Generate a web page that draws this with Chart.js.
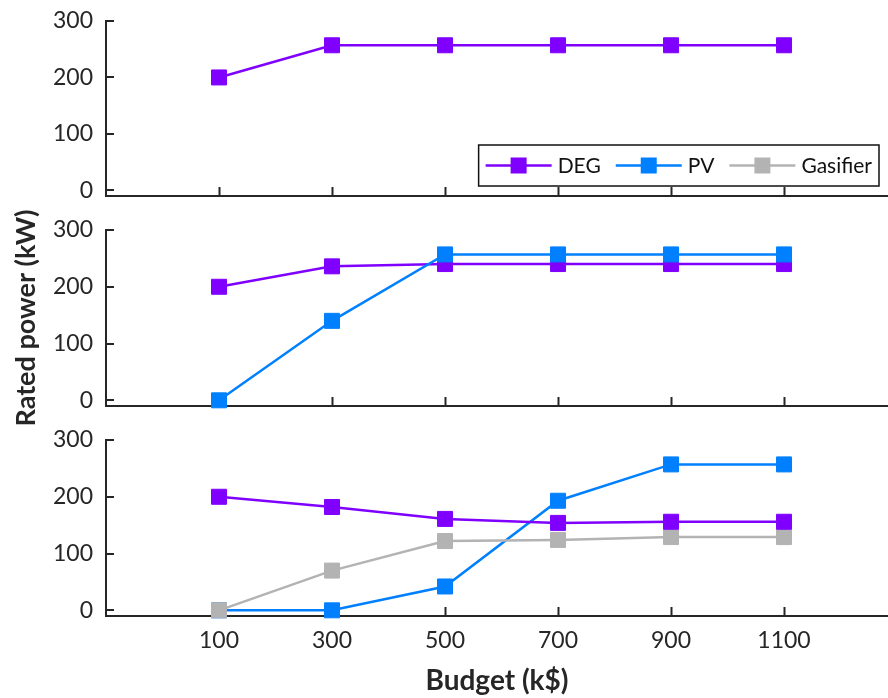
<!DOCTYPE html>
<html>
<head>
<meta charset="utf-8">
<title>Rated power vs budget</title>
<script src="https://cdn.jsdelivr.net/npm/chart.js@4.4.1/dist/chart.umd.min.js"></script>
<style>
  html, body { margin: 0; padding: 0; background: #ffffff; }
  #wrap { position: relative; width: 888px; height: 698px; }
  #wrap canvas { position: absolute; left: 0; top: 0; }
</style>
</head>
<body>
<div id="wrap">
  <canvas id="cTop" width="888" height="698"></canvas>
  <canvas id="cMid" width="888" height="698"></canvas>
  <canvas id="cBot" width="888" height="698"></canvas>
</div>
<script>
// Budget levels (k$) and axis ticks
const budget = [100, 300, 500, 700, 900, 1100];
const yTicks = [0, 100, 200, 300];

// Configuration 1: diesel generator only
const degA = [200, 257, 257, 257, 257, 257];
// Configuration 2: diesel generator + PV
const degB = [200, 236, 240, 240, 240, 240];
const pvB  = [0, 140, 257, 257, 257, 257];
// Configuration 3: diesel generator + PV + gasifier
const degC = [200, 182, 161, 154, 156, 156];
const pvC  = [0, 0, 42, 193, 257, 257];
const gasC = [0, 70, 122, 124, 129, 129];

const seriesNames  = ['DEG', 'PV', 'Gasifier'];
const seriesColors = ['#7f00ff', '#0080ff', '#b3b3b3'];

const FONT = 'Lato';
const AXIS_COLOR = '#262626';
Chart.defaults.font.family = FONT;
Chart.defaults.color = AXIS_COLOR;

function series(name, values) {
  const c = seriesColors[seriesNames.indexOf(name)];
  return {
    label: name,
    data: values.map((v, i) => ({ x: budget[i], y: v })),
    borderColor: c,
    backgroundColor: c,
    borderWidth: 2.5,
    pointStyle: 'rect',
    pointRadius: 10.6,
    pointHoverRadius: 10.6,
    pointBorderWidth: 1,
    pointBorderColor: c,
    pointBackgroundColor: c,
    tension: 0,
    clip: false
  };
}

// Tick marks pointing into the plot area
const innerTicks = {
  id: 'innerTicks',
  beforeDatasetsDraw(chart) {
    const { ctx, chartArea, scales: { x, y } } = chart;
    ctx.save();
    ctx.strokeStyle = AXIS_COLOR;
    ctx.lineWidth = 2;
    ctx.beginPath();
    yTicks.forEach(v => {
      const py = Math.round(y.getPixelForValue(v));
      ctx.moveTo(chartArea.left, py);
      ctx.lineTo(chartArea.left + 8, py);
    });
    budget.forEach(v => {
      const px = Math.round(x.getPixelForValue(v)) + 0.5;
      ctx.moveTo(px, chartArea.bottom);
      ctx.lineTo(px, chartArea.bottom - 9);
    });
    ctx.stroke();
    ctx.restore();
  }
};

// Boxed horizontal legend in the lower right of the plot area
const boxLegend = {
  id: 'boxLegend',
  afterDraw(chart) {
    const { ctx, chartArea } = chart;
    const font = '21px ' + FONT;
    const pad = 7, lineLen = 66, gapText = 6, gapItem = 15, mark = 16;
    ctx.save();
    ctx.font = font;
    const widths = seriesNames.map(n => ctx.measureText(n).width);
    let total = pad * 2;
    widths.forEach((w, i) => { total += lineLen + gapText + w + (i < widths.length - 1 ? gapItem : 0); });
    const right = chartArea.right - 9;
    const bottom = chartArea.bottom - 10;
    const h = 41;
    const left = right - total;
    const top = bottom - h;
    ctx.fillStyle = '#ffffff';
    ctx.fillRect(left, top, total, h);
    ctx.strokeStyle = '#111111';
    ctx.lineWidth = 1.5;
    ctx.strokeRect(left, top, total, h);
    const cy = top + h / 2;
    let cx = left + pad;
    seriesNames.forEach((n, i) => {
      const c = seriesColors[i];
      ctx.strokeStyle = c;
      ctx.lineWidth = 2.5;
      ctx.beginPath();
      ctx.moveTo(cx, cy);
      ctx.lineTo(cx + lineLen, cy);
      ctx.stroke();
      ctx.fillStyle = c;
      ctx.fillRect(cx + lineLen / 2 - mark / 2, cy - mark / 2, mark, mark);
      ctx.fillStyle = '#111111';
      ctx.textBaseline = 'middle';
      ctx.textAlign = 'left';
      ctx.fillText(n, cx + lineLen + gapText, cy + 1);
      cx += lineLen + gapText + widths[i] + gapItem;
    });
    ctx.restore();
  }
};

function makePanel(id, datasets, pad, opts) {
  const showX = !!opts.showX;
  return new Chart(document.getElementById(id), {
    type: 'line',
    data: { datasets },
    plugins: [innerTicks].concat(opts.legend ? [boxLegend] : []),
    options: {
      responsive: false,
      animation: false,
      devicePixelRatio: 1,
      layout: { autoPadding: false, padding: { top: pad.top, bottom: pad.bottom, left: 0, right: 0 } },
      plugins: { legend: { display: false }, tooltip: { enabled: false } },
      scales: {
        x: {
          type: 'linear',
          min: -100,
          max: 1284,
          grid: { display: false, drawTicks: false },
          border: { display: true, color: AXIS_COLOR, width: 2 },
          afterBuildTicks: s => { s.ticks = budget.map(v => ({ value: v })); },
          afterFit: s => {
            s.height = showX ? 82 : 0;
            s.paddingLeft = 0; s.paddingRight = 0;
          },
          ticks: {
            display: showX,
            autoSkip: false,
            maxRotation: 0,
            padding: 11,
            font: { size: 23 },
            color: AXIS_COLOR,
            callback: v => String(v)
          },
          title: {
            display: showX,
            text: 'Budget (k$)',
            font: { size: 28, weight: 'bold' },
            color: AXIS_COLOR,
            padding: { top: 0, bottom: 0 }
          }
        },
        y: {
          min: -10,
          max: 300,
          grid: { display: false, drawTicks: false },
          border: { display: true, color: AXIS_COLOR, width: 2 },
          afterBuildTicks: s => { s.ticks = yTicks.map(v => ({ value: v })); },
          afterFit: s => {
            s.width = 106;
            s.paddingTop = 0; s.paddingBottom = 0;
          },
          ticks: { padding: 13, font: { size: 23 }, color: AXIS_COLOR, callback: v => String(v) },
          title: {
            display: !!opts.yTitle,
            text: 'Rated power (kW)',
            font: { size: 27, weight: 'bold' },
            color: AXIS_COLOR,
            padding: { top: 10, bottom: 0 }
          }
        }
      }
    }
  });
}

// Later datasets are drawn underneath earlier ones
makePanel('cTop', [series('DEG', degA)], { top: 21, bottom: 502 }, { legend: true });
makePanel('cMid', [series('PV', pvB), series('DEG', degB)], { top: 230, bottom: 292 }, { yTitle: true });
makePanel('cBot', [series('DEG', degC), series('Gasifier', gasC), series('PV', pvC)], { top: 440, bottom: 0 }, { showX: true });
</script>
</body>
</html>
